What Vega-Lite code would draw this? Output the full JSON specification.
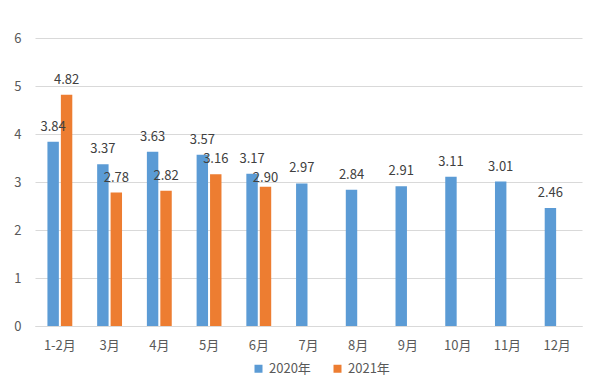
{
  "$schema": "https://vega.github.io/schema/vega-lite/v6.json",
  "width": 547,
  "height": 288,
  "autosize": {"type": "none"},
  "padding": {"left": 35, "top": 38, "right": 18, "bottom": 60},
  "background": "white",
  "config": {
    "font": "Noto Sans CJK SC",
    "view": {"stroke": null},
    "axis": {"labelColor": "#595959", "labelFontSize": 13, "title": null}
  },
  "data": {
    "values": [
      {"month": "1-2月", "year": "2020年", "value": 3.84},
      {"month": "3月", "year": "2020年", "value": 3.37},
      {"month": "4月", "year": "2020年", "value": 3.63},
      {"month": "5月", "year": "2020年", "value": 3.57},
      {"month": "6月", "year": "2020年", "value": 3.17},
      {"month": "7月", "year": "2020年", "value": 2.97},
      {"month": "8月", "year": "2020年", "value": 2.84},
      {"month": "9月", "year": "2020年", "value": 2.91},
      {"month": "10月", "year": "2020年", "value": 3.11},
      {"month": "11月", "year": "2020年", "value": 3.01},
      {"month": "12月", "year": "2020年", "value": 2.46},
      {"month": "1-2月", "year": "2021年", "value": 4.82},
      {"month": "3月", "year": "2021年", "value": 2.78},
      {"month": "4月", "year": "2021年", "value": 2.82},
      {"month": "5月", "year": "2021年", "value": 3.16},
      {"month": "6月", "year": "2021年", "value": 2.90}
    ]
  },
  "encoding": {
    "x": {
      "field": "month",
      "type": "nominal",
      "sort": ["1-2月","3月","4月","5月","6月","7月","8月","9月","10月","11月","12月"],
      "scale": {"paddingInner": 0.5, "paddingOuter": 0.25},
      "axis": {"labelAngle": 0, "ticks": false, "domainColor": "#D9D9D9", "labelPadding": 13}
    },
    "xOffset": {
      "field": "year",
      "type": "nominal",
      "scale": {"domain": ["2020年", "2021年"], "paddingInner": 0.15}
    },
    "y": {
      "field": "value",
      "type": "quantitative",
      "scale": {"domain": [0, 6]},
      "axis": {"values": [0,1,2,3,4,5,6], "domain": false, "ticks": false, "gridColor": "#D9D9D9", "labelPadding": 14}
    }
  },
  "layer": [
    {
      "mark": {"type": "bar"},
      "encoding": {
        "color": {
          "field": "year",
          "type": "nominal",
          "scale": {"domain": ["2020年", "2021年"], "range": ["#5B9BD5", "#ED7D31"]},
          "legend": {
            "title": null,
            "orient": "none",
            "legendX": 217,
            "legendY": 324,
            "direction": "horizontal",
            "symbolType": "square",
            "symbolSize": 64,
            "symbolStrokeWidth": 0,
            "symbolOffset": 0,
            "labelOffset": 4,
            "labelFontSize": 13,
            "labelColor": "#595959",
            "columnPadding": 20
          }
        }
      }
    },
    {
      "transform": [{"filter": "!(datum.month === '6月' && datum.year === '2021年')"}],
      "mark": {"type": "text", "baseline": "bottom", "dy": -8, "fontSize": 13, "color": "#404040"},
      "encoding": {
        "text": {"field": "value", "type": "quantitative", "format": ".2f"}
      }
    },
    {
      "transform": [{"filter": "datum.month === '6月' && datum.year === '2021年'"}],
      "mark": {"type": "text", "baseline": "bottom", "dy": -2, "fontSize": 13, "color": "#404040"},
      "encoding": {
        "text": {"field": "value", "type": "quantitative", "format": ".2f"}
      }
    }
  ]
}
